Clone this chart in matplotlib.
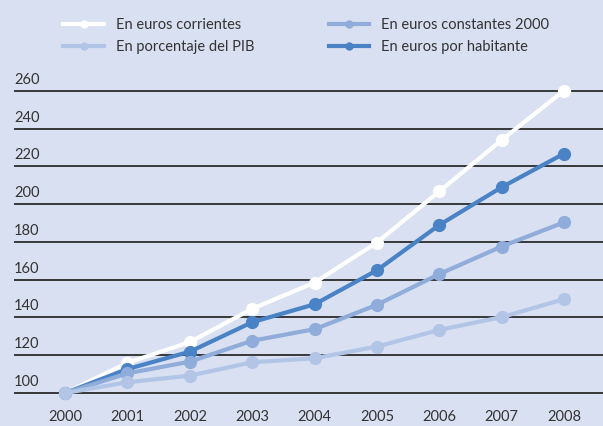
import matplotlib.pyplot as plt

# Data (index, 2000 = 100)
years = [2000, 2001, 2002, 2003, 2004, 2005, 2006, 2007, 2008]
corrientes = [100, 116, 127, 144.6, 158.5, 179.7, 206.8, 234, 260.2]
habitante = [100, 112.7, 121.9, 137.5, 147, 165, 189, 209, 226.8]
constantes = [100, 110.4, 116.6, 127.7, 133.8, 146.7, 163, 177.6, 190.4]
pib = [100, 105.7, 109.2, 116.3, 118.4, 124.6, 133.4, 140.2, 149.7]
yticks = [100, 120, 140, 160, 180, 200, 220, 240, 260]

bg = '#d9e0f1'
c_white = '#ffffff'
c_dark = '#4a82c6'
c_mid = '#8facdb'
c_light = '#b3c5e7'
txt = '#333333'

plt.rcParams['font.family'] = ['Lato', 'DejaVu Sans']

fig = plt.figure(figsize=(6.03, 4.26), dpi=100, facecolor=bg)
ax = fig.add_axes([14 / 603, 26 / 426, 1 - 14 / 603, 320 / 426])
ax.set_facecolor(bg)
ax.set_xlim(1999.18, 2008.625)
ax.set_ylim(96.29, 265.8)

# horizontal rules with labels sitting on top of them
for v in yticks:
    ax.axhline(v, color='#2b2b2b', lw=1.3, zorder=1)
    ax.annotate(str(v), xy=(0, v), xycoords=('axes fraction', 'data'),
                xytext=(0, 3), textcoords='offset points',
                ha='left', va='bottom', fontsize=10.5, color=txt)

kw = dict(marker='o', lw=3, markersize=8.5, solid_capstyle='round')
l1, = ax.plot(years, corrientes, color=c_white, zorder=3, **kw)
l4, = ax.plot(years, habitante, color=c_dark, zorder=4, **kw)
l3, = ax.plot(years, constantes, color=c_mid, zorder=5, **kw)
l2, = ax.plot(years, pib, color=c_light, zorder=6, **kw)

ax.set_xticks(years)
ax.set_xticklabels([str(y) for y in years], fontsize=10.5, color=txt)
ax.tick_params(axis='x', length=0, pad=7)
ax.set_yticks([])
for s in ax.spines.values():
    s.set_visible(False)

leg_handles = [
    plt.Line2D([], [], color=c_white, lw=3, marker='o', markersize=5),
    plt.Line2D([], [], color=c_light, lw=3, marker='o', markersize=5),
    plt.Line2D([], [], color=c_mid, lw=3, marker='o', markersize=5),
    plt.Line2D([], [], color=c_dark, lw=3, marker='o', markersize=5),
]
leg_labels = ['En euros corrientes', 'En porcentaje del PIB',
              'En euros constantes 2000', 'En euros por habitante']
fig.legend(leg_handles, leg_labels, ncol=2, loc='upper left',
           bbox_to_anchor=(50 / 603, 1 - 5 / 426), frameon=False,
           fontsize=10.5, handlelength=2.8, handletextpad=0.8,
           columnspacing=5.1, labelspacing=0.55, labelcolor=txt)

fig.savefig('out.png', dpi=100, facecolor=bg)
